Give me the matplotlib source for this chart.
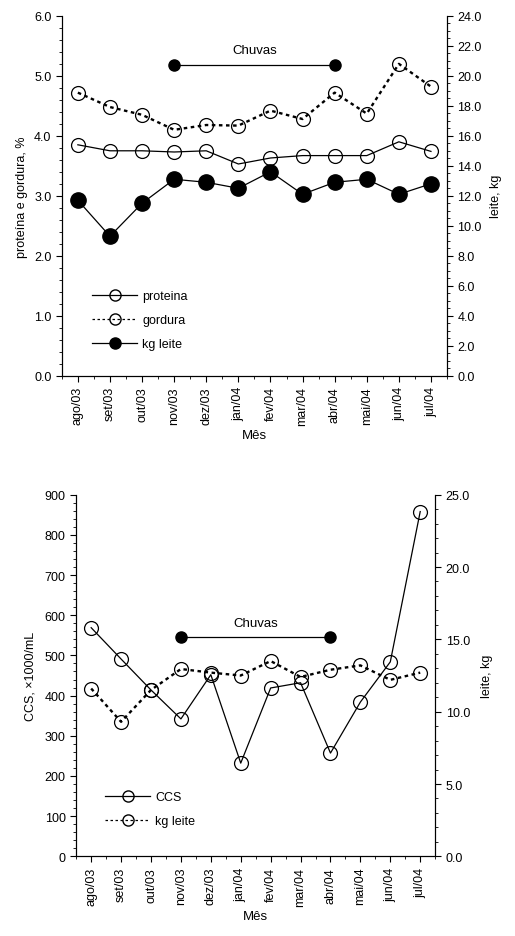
import numpy as np
import matplotlib
matplotlib.use('Agg')
import matplotlib.pyplot as plt
from matplotlib.ticker import MultipleLocator
from matplotlib.lines import Line2D

plt.rcParams['font.family'] = ['Liberation Sans', 'DejaVu Sans']

#Data
meses = ['ago/03', 'set/03', 'out/03', 'nov/03', 'dez/03', 'jan/04',
         'fev/04', 'mar/04', 'abr/04', 'mai/04', 'jun/04', 'jul/04']
proteina = [3.85, 3.75, 3.75, 3.73, 3.75, 3.53, 3.63, 3.67, 3.67, 3.67, 3.90, 3.74]
gordura = [4.72, 4.48, 4.35, 4.10, 4.18, 4.17, 4.42, 4.28, 4.72, 4.37, 5.20, 4.82]
kg_leite_1 = [11.7, 9.3, 11.5, 13.1, 12.9, 12.5, 13.6, 12.1, 12.9, 13.1, 12.1, 12.8]
ccs = [569, 491, 414, 342, 452, 232, 419, 432, 257, 384, 484, 858]
kg_leite_2 = [11.6, 9.3, 11.5, 12.95, 12.7, 12.5, 13.5, 12.4, 12.9, 13.2, 12.2, 12.7]
chuvas_ini, chuvas_fim = 3, 8

x = np.arange(len(meses))
fs = 9

fig = plt.figure(figsize=(5.15, 9.37), dpi=100)

def style_axes(ax, ax2):
    ax.spines['top'].set_visible(False)
    ax2.spines['top'].set_visible(False)
    ax.set_xlim(-0.5, 11.5)
    ax.set_xticks(x)
    ax.set_xticklabels(meses, rotation=90, fontsize=fs)
    ax.xaxis.set_minor_locator(MultipleLocator(0.5))
    for a in (ax, ax2):
        a.tick_params(direction='out', labelsize=fs, length=4)
        a.tick_params(which='minor', direction='out', length=2)
    ax.set_xlabel('Mês', fontsize=fs + 0.5, labelpad=3)

# ---- top chart
ax1 = fig.add_axes([0.120, 0.598, 0.748, 0.384])
ax1b = ax1.twinx()
ax1.plot(x, proteina, '-', color='black', lw=0.9, marker='o', ms=10,
         mfc='none', mec='black', mew=0.9)
ax1.plot(x, gordura, color='black', lw=1.7, ls=(0, (1.5, 1.5)), marker='o', ms=10,
         mfc='none', mec='black', mew=0.9)
ax1b.plot(x, kg_leite_1, '-', color='black', lw=0.9, marker='o', ms=11,
          mfc='black', mec='black')
ax1.plot([chuvas_ini, chuvas_fim], [5.18, 5.18], '-', color='black', lw=0.9,
         marker='o', ms=8, mfc='black')
ax1.text((chuvas_ini + chuvas_fim) / 2, 5.33, 'Chuvas', ha='center', va='bottom', fontsize=fs + 0.5)
ax1.set_ylim(0, 6)
ax1.yaxis.set_major_locator(MultipleLocator(1))
ax1.yaxis.set_minor_locator(MultipleLocator(0.2))
ax1.yaxis.set_major_formatter('{x:.1f}')
ax1b.set_ylim(0, 24)
ax1b.yaxis.set_major_locator(MultipleLocator(2))
ax1b.yaxis.set_minor_locator(MultipleLocator(0.5))
ax1b.yaxis.set_major_formatter('{x:.1f}')
ax1.set_ylabel('proteína e gordura, %', fontsize=fs)
ax1b.set_ylabel('leite, kg', fontsize=fs, labelpad=6)
style_axes(ax1, ax1b)
h1 = [Line2D([], [], color='black', lw=0.9, marker='o', ms=8, mfc='none'),
      Line2D([], [], color='black', lw=0.9, ls=(0, (2, 2)), marker='o', ms=8, mfc='none'),
      Line2D([], [], color='black', lw=0.9, marker='o', ms=8, mfc='black')]
ax1.legend(h1, ['proteina', 'gordura', 'kg leite'], loc='lower left',
           bbox_to_anchor=(0.05, 0.04), frameon=False, fontsize=fs,
           handlelength=3.6, handletextpad=0.4, labelspacing=0.95)

# ---- bottom chart
ax2 = fig.add_axes([0.148, 0.085, 0.697, 0.386])
ax2b = ax2.twinx()
ax2.plot(x, ccs, '-', color='black', lw=0.9, marker='o', ms=10,
         mfc='none', mec='black', mew=0.9)
ax2b.plot(x, kg_leite_2, color='black', lw=1.7, ls=(0, (1.5, 1.5)), marker='o', ms=10,
          mfc='none', mec='black', mew=0.9)
ax2.plot([chuvas_ini, chuvas_fim], [546, 546], '-', color='black', lw=0.9,
         marker='o', ms=8, mfc='black')
ax2.text((chuvas_ini + chuvas_fim) / 2, 565, 'Chuvas', ha='center', va='bottom', fontsize=fs + 0.5)
ax2.set_ylim(0, 900)
ax2.yaxis.set_major_locator(MultipleLocator(100))
ax2.yaxis.set_minor_locator(MultipleLocator(20))
ax2b.set_ylim(0, 25)
ax2b.yaxis.set_major_locator(MultipleLocator(5))
ax2b.yaxis.set_minor_locator(MultipleLocator(1))
ax2b.yaxis.set_major_formatter('{x:.1f}')
ax2.set_ylabel('CCS, ×1000/mL', fontsize=fs, labelpad=6)
ax2b.set_ylabel('leite, kg', fontsize=fs, labelpad=8)
style_axes(ax2, ax2b)
h2 = [Line2D([], [], color='black', lw=0.9, marker='o', ms=8, mfc='none'),
      Line2D([], [], color='black', lw=0.9, ls=(0, (2, 2)), marker='o', ms=8, mfc='none')]
ax2.legend(h2, ['CCS', 'kg leite'], loc='lower left',
           bbox_to_anchor=(0.05, 0.05), frameon=False, fontsize=fs,
           handlelength=3.6, handletextpad=0.4, labelspacing=0.95)

fig.savefig('out.png', dpi=100)
